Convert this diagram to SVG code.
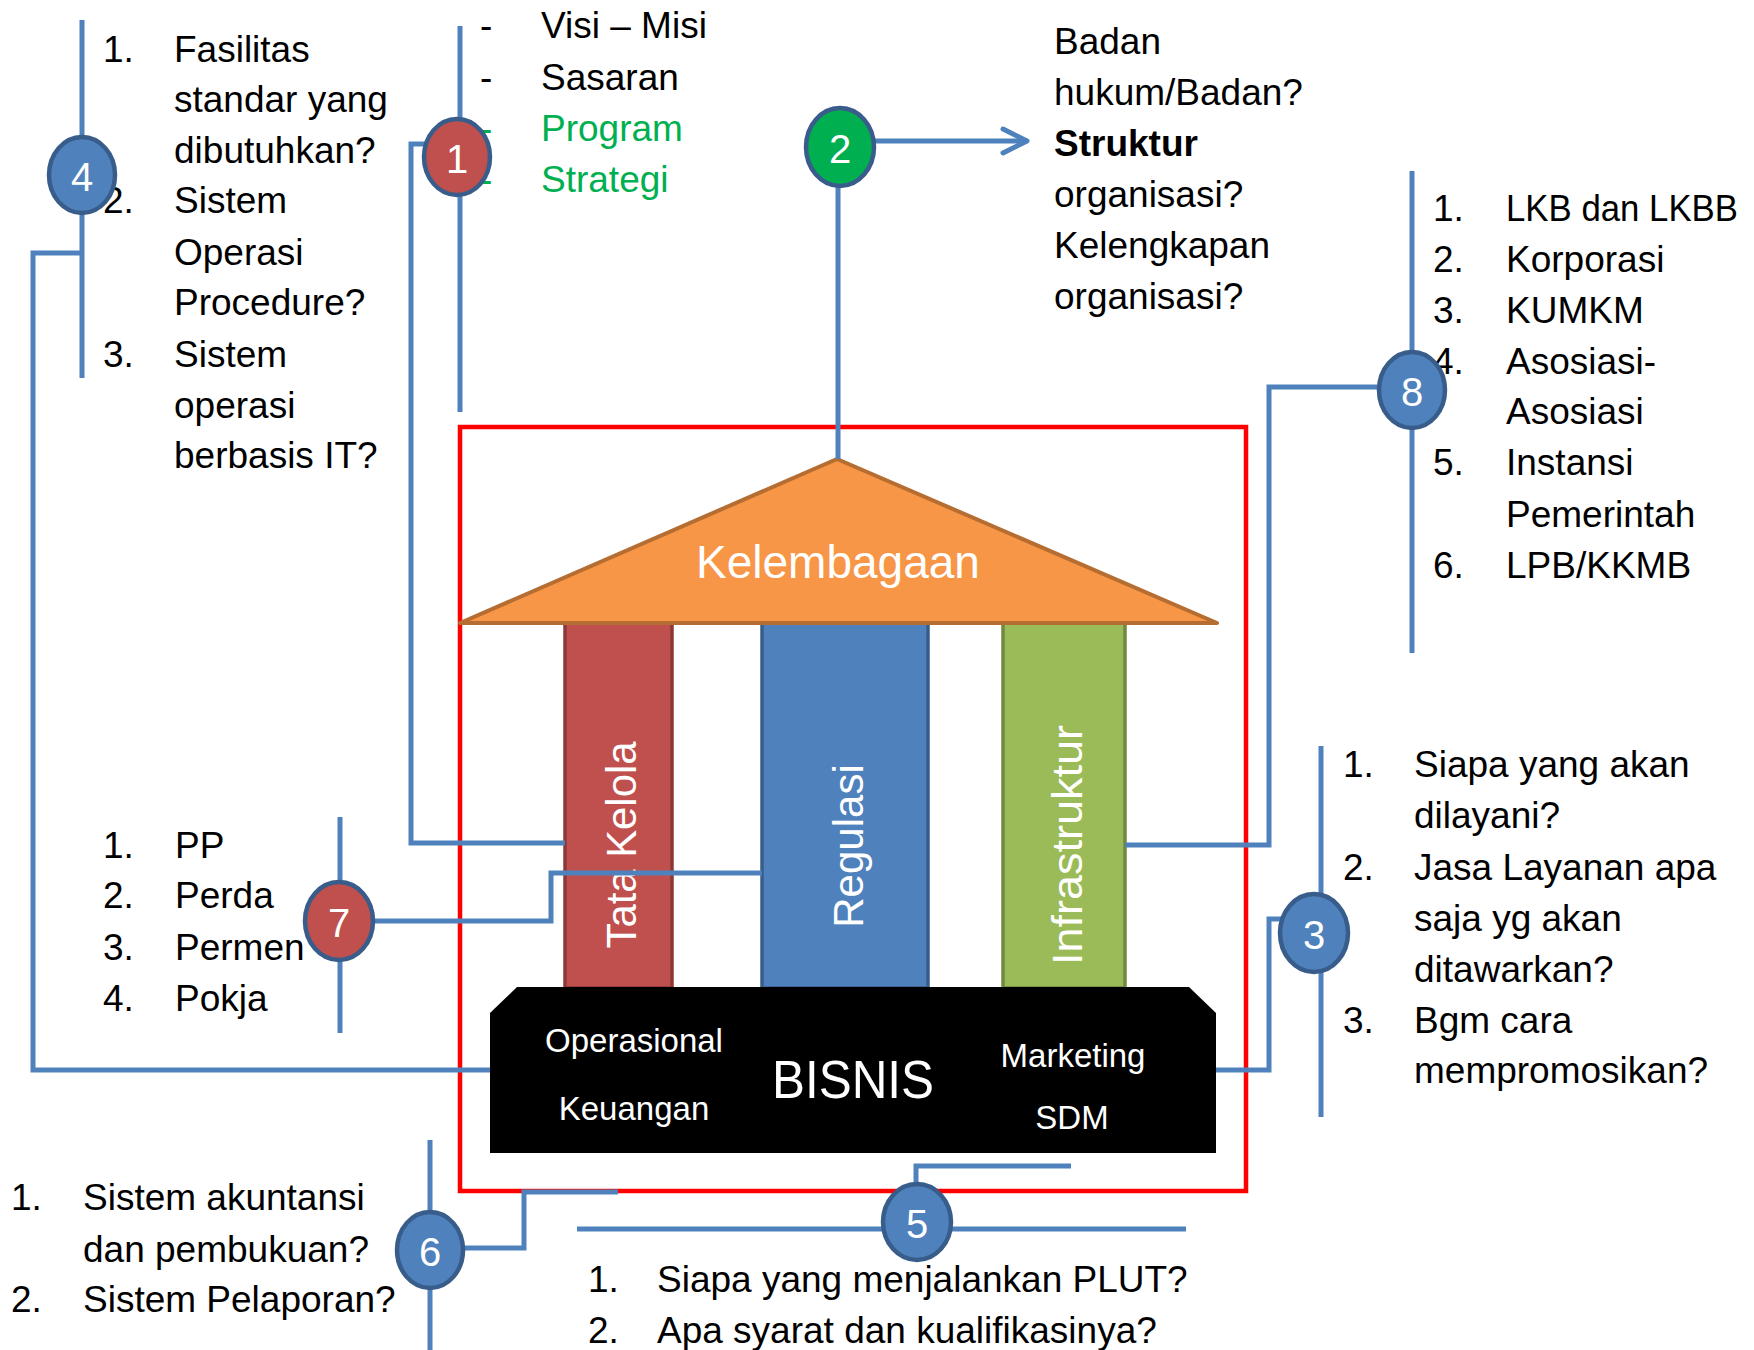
<svg xmlns="http://www.w3.org/2000/svg" width="1754" height="1350" viewBox="0 0 1754 1350">
<style>
text{font-family:'Liberation Sans',Arial,sans-serif}
.t{font-size:37px;fill:#000}
.gr{fill:#00B050}
.b{font-weight:bold}
.ln{stroke:#4F81BD;stroke-width:5;fill:none}
.badge{stroke:#385D8A;stroke-width:4.5}
.bl{fill:#4F81BD}
.rd{fill:#C0504D}
.gn{fill:#00B050}
.num{font-size:40px;fill:#fff;text-anchor:middle}
.wt{fill:#fff;text-anchor:middle}
.bx{font-size:33px}
.pl{font-size:42px}
</style>
<defs>
<marker id="arr" markerUnits="userSpaceOnUse" viewBox="0 0 30 30" refX="27" refY="15" markerWidth="30" markerHeight="30" orient="auto">
<path d="M3,3 L27,15 L3,27" fill="none" stroke="#4F81BD" stroke-width="5" stroke-linecap="round" stroke-linejoin="round"/>
</marker>
</defs>
<rect width="1754" height="1350" fill="#fff"/>

<g id="frame">
<rect x="460" y="427" width="786" height="764" fill="none" stroke="#FF0000" stroke-width="4.5"/>
</g>

<g id="pillars">
<g id="tata-kelola">
<rect x="565" y="623" width="107" height="365" fill="#C0504D" stroke="#8C3836" stroke-width="3.5"/>
<text class="wt pl" transform="translate(636,845) rotate(-90)" textLength="207" lengthAdjust="spacingAndGlyphs">Tata Kelola</text>
</g>
<g id="regulasi">
<rect x="762" y="623" width="166" height="365" fill="#4F81BD" stroke="#385D8A" stroke-width="3.5"/>
<text class="wt pl" transform="translate(863,846) rotate(-90)">Regulasi</text>
</g>
<g id="infrastruktur">
<rect x="1003" y="623" width="122" height="365" fill="#9BBB59" stroke="#71893F" stroke-width="3.5"/>
<text class="wt pl" transform="translate(1082,845) rotate(-90)" textLength="240" lengthAdjust="spacingAndGlyphs">Infrastruktur</text>
</g>
</g>

<g id="kelembagaan">
<polygon points="837,459 1217,623 460,623" fill="#F79646" stroke="#B66D31" stroke-width="4" stroke-linejoin="round"/>
<text class="wt" x="838" y="578" font-size="46">Kelembagaan</text>
</g>

<g id="bisnis">
<polygon points="517,987 1189,987 1216,1013 1216,1153 490,1153 490,1013" fill="#000"/>
<text class="wt bx" x="634" y="1052">Operasional</text>
<text class="wt bx" x="634" y="1120">Keuangan</text>
<text class="wt" x="853" y="1098" font-size="54" textLength="162" lengthAdjust="spacingAndGlyphs">BISNIS</text>
<text class="wt bx" x="1073" y="1067">Marketing</text>
<text class="wt bx" x="1072" y="1129">SDM</text>
</g>

<g id="connectors">
<path class="ln" d="M82,20 V378"/>
<path class="ln" d="M82,253 H33 V1070 H490"/>
<path class="ln" d="M460,26 V412"/>
<path class="ln" d="M440,144 H411 V843 H565"/>
<path class="ln" d="M838,150 V459"/>
<path class="ln" d="M860,141 H1027" marker-end="url(#arr)"/>
<path class="ln" d="M1412,171 V653"/>
<path class="ln" d="M1390,387 H1269 V845 H1125"/>
<path class="ln" d="M1321,746 V1117"/>
<path class="ln" d="M1290,919 H1269 V1070 H1216"/>
<path class="ln" d="M340,817 V1033"/>
<path class="ln" d="M339,921 H551 V873 H762"/>
<path class="ln" d="M430,1140 V1350"/>
<path class="ln" d="M430,1248 H524 V1192 H618"/>
<path class="ln" d="M577,1229 H1186"/>
<path class="ln" d="M916,1222 V1166 H1071"/>
</g>

<g id="node1">
<text class="t" x="480" y="38">-</text><text class="t" x="541" y="38">Visi – Misi</text>
<text class="t" x="480" y="90">-</text><text class="t" x="541" y="90">Sasaran</text>
<text class="t gr" x="480" y="141">-</text><text class="t gr" x="541" y="141">Program</text>
<text class="t gr" x="480" y="192">-</text><text class="t gr" x="541" y="192">Strategi</text>
<ellipse class="badge rd" cx="457" cy="157" rx="33" ry="38"/>
<text class="num" x="457" y="173">1</text>
</g>

<g id="node2">
<text class="t" x="1054" y="54">Badan</text>
<text class="t" x="1054" y="105">hukum/Badan?</text>
<text class="t b" x="1054" y="156">Struktur</text>
<text class="t" x="1054" y="207">organisasi?</text>
<text class="t" x="1054" y="258">Kelengkapan</text>
<text class="t" x="1054" y="309">organisasi?</text>
<ellipse class="badge gn" cx="840" cy="147" rx="34" ry="39"/>
<text class="num" x="840" y="163">2</text>
</g>

<g id="node3">
<text class="t" x="1343" y="777">1.</text><text class="t" x="1414" y="777">Siapa yang akan</text>
<text class="t" x="1414" y="828">dilayani?</text>
<text class="t" x="1343" y="880">2.</text><text class="t" x="1414" y="880">Jasa Layanan apa</text>
<text class="t" x="1414" y="931">saja yg akan</text>
<text class="t" x="1414" y="982">ditawarkan?</text>
<text class="t" x="1343" y="1033">3.</text><text class="t" x="1414" y="1033">Bgm cara</text>
<text class="t" x="1414" y="1083">mempromosikan?</text>
<ellipse class="badge bl" cx="1314" cy="933" rx="34" ry="39"/>
<text class="num" x="1314" y="949">3</text>
</g>

<g id="node4">
<text class="t" x="103" y="62">1.</text><text class="t" x="174" y="62">Fasilitas</text>
<text class="t" x="174" y="112">standar yang</text>
<text class="t" x="174" y="163">dibutuhkan?</text>
<text class="t" x="103" y="213">2.</text><text class="t" x="174" y="213">Sistem</text>
<text class="t" x="174" y="265">Operasi</text>
<text class="t" x="174" y="315">Procedure?</text>
<text class="t" x="103" y="367">3.</text><text class="t" x="174" y="367">Sistem</text>
<text class="t" x="174" y="418">operasi</text>
<text class="t" x="174" y="468">berbasis IT?</text>
<ellipse class="badge bl" cx="82" cy="175" rx="33" ry="38"/>
<text class="num" x="82" y="191">4</text>
</g>

<g id="node5">
<text class="t" x="588" y="1292">1.</text><text class="t" x="657" y="1292">Siapa yang menjalankan PLUT?</text>
<text class="t" x="588" y="1343">2.</text><text class="t" x="657" y="1343">Apa syarat dan kualifikasinya?</text>
<ellipse class="badge bl" cx="917" cy="1222" rx="34" ry="38"/>
<text class="num" x="917" y="1238">5</text>
</g>

<g id="node6">
<text class="t" x="11" y="1210">1.</text><text class="t" x="83" y="1210">Sistem akuntansi</text>
<text class="t" x="83" y="1262">dan pembukuan?</text>
<text class="t" x="11" y="1312">2.</text><text class="t" x="83" y="1312">Sistem Pelaporan?</text>
<ellipse class="badge bl" cx="430" cy="1250" rx="33" ry="38"/>
<text class="num" x="430" y="1266">6</text>
</g>

<g id="node7">
<text class="t" x="103" y="858">1.</text><text class="t" x="175" y="858">PP</text>
<text class="t" x="103" y="908">2.</text><text class="t" x="175" y="908">Perda</text>
<text class="t" x="103" y="960">3.</text><text class="t" x="175" y="960">Permen</text>
<text class="t" x="103" y="1011">4.</text><text class="t" x="175" y="1011">Pokja</text>
<ellipse class="badge rd" cx="339" cy="921" rx="34" ry="39"/>
<text class="num" x="339" y="937">7</text>
</g>

<g id="node8">
<text class="t" x="1433" y="221">1.</text><text class="t" x="1506" y="221" textLength="232" lengthAdjust="spacingAndGlyphs">LKB dan LKBB</text>
<text class="t" x="1433" y="272">2.</text><text class="t" x="1506" y="272">Korporasi</text>
<text class="t" x="1433" y="323">3.</text><text class="t" x="1506" y="323">KUMKM</text>
<text class="t" x="1433" y="374">4.</text><text class="t" x="1506" y="374">Asosiasi-</text>
<text class="t" x="1506" y="424">Asosiasi</text>
<text class="t" x="1433" y="475">5.</text><text class="t" x="1506" y="475">Instansi</text>
<text class="t" x="1506" y="527">Pemerintah</text>
<text class="t" x="1433" y="578">6.</text><text class="t" x="1506" y="578">LPB/KKMB</text>
<ellipse class="badge bl" cx="1412" cy="390" rx="33" ry="38"/>
<text class="num" x="1412" y="406">8</text>
</g>
</svg>
